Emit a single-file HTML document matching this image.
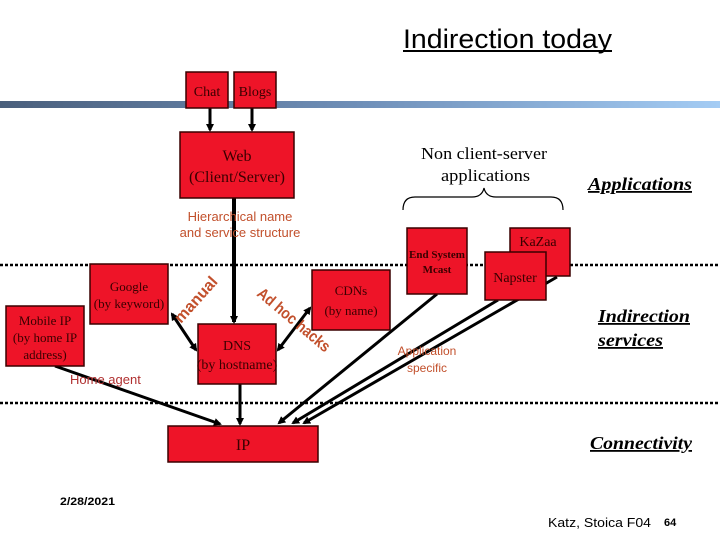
<!DOCTYPE html>
<html><head><meta charset="utf-8"><style>
body{margin:0;background:#fff;width:720px;height:540px;overflow:hidden}
svg{display:block}
.s{font-family:"Liberation Serif",serif}
.a{font-family:"Liberation Sans",sans-serif}
</style></head><body>
<svg width="720" height="540" viewBox="0 0 720 540" xmlns="http://www.w3.org/2000/svg">
<defs>
<linearGradient id="g" x1="0" x2="1" y1="0" y2="0"><stop offset="0" stop-color="#4a5f7c"/><stop offset="0.5" stop-color="#6f8fb8"/><stop offset="1" stop-color="#a4ccf4"/></linearGradient>
<marker id="ar" markerWidth="8" markerHeight="8" refX="6" refY="4" orient="auto" markerUnits="userSpaceOnUse"><path d="M0,0 L8,4 L0,8 z" fill="#000"/></marker>
<marker id="as" markerWidth="8" markerHeight="8" refX="2" refY="4" orient="auto" markerUnits="userSpaceOnUse"><path d="M8,0 L0,4 L8,8 z" fill="#000"/></marker>
</defs>
<text x="403" y="48" class="a" font-size="27" textLength="209" lengthAdjust="spacingAndGlyphs">Indirection today</text>
<rect x="403" y="50" width="209" height="2" fill="#000"/>
<rect x="0" y="101" width="720" height="7" fill="url(#g)"/>
<g stroke="#000" stroke-dasharray="3,2" stroke-width="2.5"><line x1="0" y1="265" x2="720" y2="265"/><line x1="0" y1="403" x2="720" y2="403"/></g>
<g stroke="#000" stroke-width="3" fill="none">
<line x1="210" y1="108" x2="210" y2="130" marker-end="url(#ar)"/>
<line x1="252" y1="108" x2="252" y2="130" marker-end="url(#ar)"/>
<line x1="234" y1="198" x2="234" y2="322" stroke-width="4" marker-end="url(#ar)"/>
<line x1="240" y1="384" x2="240" y2="424" marker-end="url(#ar)"/>
<line x1="55" y1="366" x2="220" y2="424" marker-end="url(#ar)"/>
<line x1="172" y1="314" x2="196" y2="350" marker-start="url(#as)" marker-end="url(#ar)"/>
<line x1="278" y1="350" x2="310" y2="308" marker-end="url(#ar)" marker-start="url(#as)"/>
<line x1="437" y1="294" x2="279" y2="423" marker-end="url(#ar)"/>
<line x1="498" y1="300" x2="293" y2="423" marker-end="url(#ar)"/>
<line x1="557" y1="277" x2="304" y2="423" marker-end="url(#ar)"/>
</g>
<g fill="#ee1428" stroke="#3a0000" stroke-width="1.5">
<rect x="186" y="72" width="42" height="36"/><rect x="234" y="72" width="42" height="36"/>
<rect x="180" y="132" width="114" height="66"/>
<rect x="90" y="264" width="78" height="60"/>
<rect x="6" y="306" width="78" height="60"/>
<rect x="312" y="270" width="78" height="60"/>
<rect x="198" y="324" width="78" height="60"/>
<rect x="168" y="426" width="150" height="36"/>
<rect x="407" y="228" width="60" height="66"/>
<rect x="510" y="228" width="60" height="48"/>
<rect x="485" y="252" width="61" height="48"/>
</g>
<g class="s" fill="#3a0000" text-anchor="middle">
<text x="207" y="96" font-size="14">Chat</text><text x="255" y="96" font-size="14">Blogs</text>
<text x="237" y="161" font-size="16">Web</text><text x="237" y="182" font-size="16">(Client/Server)</text>
<text x="129" y="291" font-size="13">Google</text><text x="129" y="308" font-size="13">(by keyword)</text>
<text x="45" y="325" font-size="13">Mobile IP</text><text x="45" y="342" font-size="13">(by home IP</text><text x="45" y="359" font-size="13">address)</text>
<text x="351" y="295" font-size="13">CDNs</text><text x="351" y="315" font-size="13">(by name)</text>
<text x="237" y="350" font-size="14">DNS</text><text x="237" y="369" font-size="14">(by hostname)</text>
<text x="243" y="450" font-size="16">IP</text>
<text x="437" y="258" font-size="11" font-weight="bold">End System</text><text x="437" y="273" font-size="11" font-weight="bold">Mcast</text>
<text x="538" y="246" font-size="14">KaZaa</text>
<text x="515" y="282" font-size="14">Napster</text>
</g>
<g class="s" font-size="17" fill="#000"><text x="421" y="159" textLength="126" lengthAdjust="spacingAndGlyphs">Non client-server</text><text x="441" y="181" textLength="89" lengthAdjust="spacingAndGlyphs">applications</text></g>
<path d="M403,210 Q403,197 415,197 L472,197 Q482,197 484,188 Q486,197 496,197 L551,197 Q563,197 563,210" fill="none" stroke="#000" stroke-width="1.2"/>
<g class="s" font-size="18" font-weight="bold" font-style="italic" text-decoration="underline" fill="#000">
<text x="588" y="190" textLength="104" lengthAdjust="spacingAndGlyphs">Applications</text>
<text x="598" y="322" textLength="92" lengthAdjust="spacingAndGlyphs">Indirection</text><text x="598" y="346" textLength="65" lengthAdjust="spacingAndGlyphs">services</text>
<text x="590" y="449" textLength="102" lengthAdjust="spacingAndGlyphs">Connectivity</text>
</g>
<g class="a" fill="#c2502c" font-size="13" text-anchor="middle">
<text x="240" y="221">Hierarchical name</text><text x="240" y="237">and service structure</text>
<text x="427" y="355" font-size="12">Application</text><text x="427" y="372" font-size="12">specific</text>
</g>
<text x="70" y="384" class="a" font-size="13" fill="#b03030">Home agent</text>
<text x="0" y="0" class="a" font-size="16" font-weight="bold" fill="#c2502c" transform="translate(181,324) rotate(-48)" textLength="56" lengthAdjust="spacingAndGlyphs">manual</text>
<text x="0" y="0" class="a" font-size="16" font-weight="bold" fill="#c2502c" transform="translate(256,295) rotate(40)" textLength="90" lengthAdjust="spacingAndGlyphs">Ad hoc hacks</text>
<text x="60" y="505" class="a" font-size="11" font-weight="bold" textLength="55" lengthAdjust="spacingAndGlyphs">2/28/2021</text>
<text x="548" y="527" class="a" font-size="13" textLength="103" lengthAdjust="spacingAndGlyphs">Katz, Stoica F04</text>
<text x="664" y="526" class="a" font-size="11" font-weight="bold">64</text>
</svg>
</body></html>
